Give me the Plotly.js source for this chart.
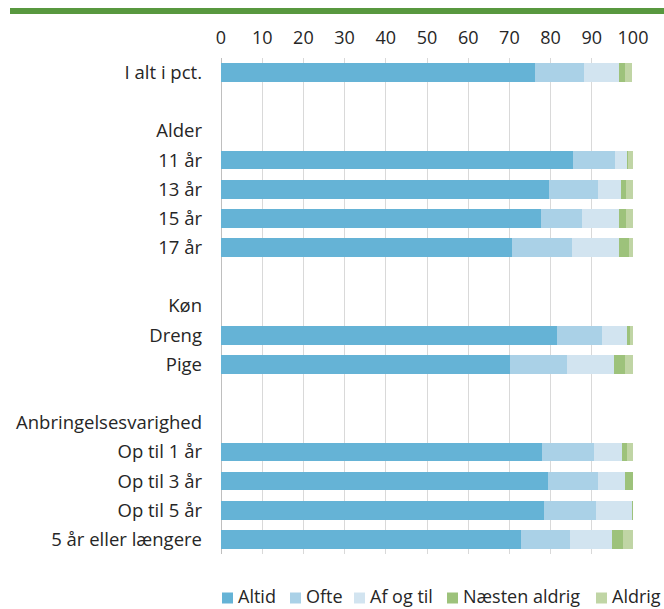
<!DOCTYPE html>
<html>
<head>
<meta charset="utf-8">
<script src="https://cdn.plot.ly/plotly-3.0.1.min.js"></script>
<style>html,body{margin:0;padding:0;background:#fff;}#chart{width:664px;height:609px;}</style>
</head>
<body>
<div id="chart"></div>
<script>
const categories = ["I alt i pct.", "", "Alder", "11 år", "13 år", "15 år", "17 år", "", "Køn", "Dreng", "Pige", "", "Anbringelsesvarighed", "Op til 1 år", "Op til 3 år", "Op til 5 år", "5 år eller længere"];
const altid  = [76.3, null, null, 85.4, 79.5, 77.6, 70.6, null, null, 81.5, 70.2, null, null, 77.8, 79.3, 78.3, 72.7];
const ofte   = [11.7, null, null, 10.2, 11.9,  9.9, 14.5, null, null, 10.9, 13.9, null, null, 12.7, 12.1, 12.6, 12.1];
const afogtil= [ 8.5, null, null,  3.0,  5.6,  9.0, 11.5, null, null,  6.1, 11.2, null, null,  6.8,  6.7,  8.8, 10.0];
const naesten= [ 1.6, null, null,  0.3,  1.2,  1.7,  2.4, null, null,  0.8,  2.7, null, null,  1.2,  1.9,  0.3,  2.7];
const aldrig = [ 1.6, null, null,  1.1,  1.8,  1.8,  1.4, null, null,  0.7,  2.0, null, null,  1.5,  0.0,  0.0,  2.5];
const seriesNames = ["Altid", "Ofte", "Af og til", "Næsten aldrig", "Aldrig"];
const xTicks = [0, 10, 20, 30, 40, 50, 60, 70, 80, 90, 100];

const colors = ["#65B3D6", "#AAD1E7", "#D2E4F0", "#9DC27B", "#C0D5A5"];
const yIdx = categories.map((_, i) => i);
const data = [altid, ofte, afogtil, naesten, aldrig].map((vals, k) => ({
  type: "bar",
  orientation: "h",
  name: seriesNames[k],
  x: vals,
  y: yIdx,
  marker: {color: colors[k], line: {width: 0}},
  hoverinfo: "skip",
  showlegend: false
}));

// plot area geometry (pixels)
const M = {l: 221, r: 31, t: 58, b: 55};
const PW = 664 - M.l - M.r, PH = 609 - M.t - M.b;
const px2x = p => (p - M.l) / PW;
const py2y = p => (609 - M.b - p) / PH;

const font = "'Open Sans', sans-serif";
const txt = "#262626";
const fs = 18.5;

// manual legend (swatch + label)
const legendSwatchX = [222, 290, 354, 447, 596];
const legendCY = 598, sw = 11;
const shapes = [{
  type: "rect", xref: "paper", yref: "paper",
  x0: px2x(10), x1: px2x(664),
  y0: py2y(14), y1: py2y(8),
  fillcolor: "#58983F", line: {width: 0}
}];
const annotations = [];
seriesNames.forEach((n, k) => {
  const x = legendSwatchX[k];
  shapes.push({
    type: "rect", xref: "paper", yref: "paper",
    x0: px2x(x), x1: px2x(x + sw),
    y0: py2y(legendCY + sw / 2), y1: py2y(legendCY - sw / 2),
    fillcolor: colors[k], line: {width: 0}
  });
  annotations.push({
    xref: "paper", yref: "paper",
    x: px2x(x + sw + 4), y: py2y(608.5),
    xanchor: "left", yanchor: "bottom",
    borderpad: 0,
    text: n, showarrow: false,
    font: {family: font, size: 18, color: txt}
  });
});

const layout = {
  width: 664, height: 609,
  margin: M,
  barmode: "stack",
  bargap: 0.36,
  paper_bgcolor: "#fff",
  plot_bgcolor: "#fff",
  font: {family: font, size: fs, color: txt},
  xaxis: {
    side: "top",
    range: [0, 100],
    tickvals: xTicks,
    ticktext: xTicks.map(String),
    showgrid: true,
    gridcolor: "#D9D9D9",
    gridwidth: 1,
    zeroline: true,
    zerolinecolor: "#BFBFBF",
    zerolinewidth: 1,
    showline: false,
    ticks: "",
    ticklabelstandoff: 9,
    tickfont: {family: font, size: 18, color: txt},
    fixedrange: true
  },
  yaxis: {
    range: [16.5, -0.5],
    tickvals: yIdx,
    ticktext: categories,
    showgrid: false,
    zeroline: false,
    showline: false,
    ticks: "",
    ticklabelstandoff: 18,
    tickfont: {family: font, size: fs, color: txt},
    fixedrange: true
  },
  showlegend: false,
  shapes: shapes,
  annotations: annotations
};

Plotly.newPlot("chart", data, layout, {displayModeBar: false, staticPlot: true});
</script>
</body>
</html>
